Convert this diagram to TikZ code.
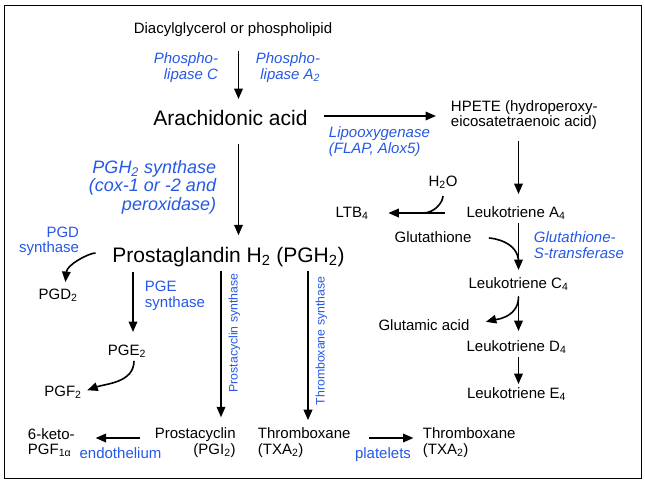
\documentclass[tikz,border=0pt]{standalone}
\usepackage{fontspec}
\setmainfont{Liberation Sans}
\usetikzlibrary{arrows.meta,positioning}

\definecolor{enzblue}{RGB}{38,88,230}

\tikzset{
  mol/.style={inner sep=0pt,font=\fontsize{15}{15.5}\selectfont,text height=11pt,text depth=3pt},
  mols/.style={inner sep=0pt,font=\fontsize{15}{15.5}\selectfont},
  bigmol/.style={inner sep=0pt,font=\fontsize{21}{24}\selectfont,text height=15pt,text depth=4.5pt},
  enz/.style={inner sep=0pt,text=enzblue,font=\fontsize{15}{15.5}\selectfont,text height=11pt,text depth=3pt},
  enzs/.style={inner sep=0pt,text=enzblue,font=\fontsize{15}{15.5}\selectfont},
  enzit/.style={inner sep=0pt,text=enzblue,font=\fontsize{15}{15.5}\selectfont\itshape},
  enzsm/.style={inner sep=0pt,text=enzblue,font=\fontsize{12.3}{14}\selectfont},
}

\begin{document}
\begin{tikzpicture}[x=1pt,y=-1pt,>={Triangle[length=10.5pt,width=8.5pt]},line width=1.9pt]

                \useasboundingbox (0,0) rectangle (645,483);
                \draw[line width=0.8pt] (4,5) rectangle (641,478);

                \coordinate (lsp) at (238.5,0);
                \coordinate (rsp) at (518.5,0);
                \coordinate (pgex) at (133,0);
                \coordinate (pcx) at (221,0);
                \coordinate (txx) at (308,0);
                \coordinate (wj) at (423,213);
                \coordinate (gj) at (518.5,262);
                \coordinate (cj) at (518.5,297);

                % top
                \node[mol] (dag) at (233,29) {Diacylglycerol or phospholipid};
                \node[enzit,align=right,anchor=east] (plc) at (219,67.5) {Phospho-\\lipase C};
                \node[enzit,align=right,anchor=east] (pla) at (321,67.5) {Phospho-\\lipase A\textsubscript{2}};
                \node[bigmol] (aa) at (230.5,120) {Arachidonic acid};

                % leukotrienes
                \node[mols,align=left,anchor=west] (hpete) at (450,115) {HPETE (hydroperoxy-\\eicosatetraenoic acid)};
                \node[enzit,align=left,anchor=west] (lox) at (328,141.5) {Lipooxygenase\\(FLAP, Alox5)};
                \node[mol] (h2o) at (443,182) {H\textsubscript{2}O};
                \node[mol] (lta4) at (516,213) {Leukotriene A\textsubscript{4}};
                \node[mol] (ltb4) at (352,213) {LTB\textsubscript{4}};
                \node[mol] (gsh) at (433,238) {Glutathione};
                \node[enzit,align=left,anchor=west] (gst) at (533,245) {Glutathione-\\S-transferase};
                \node[mol] (ltc4) at (518.5,284) {Leukotriene C\textsubscript{4}};
                \node[mol] (glu) at (424,326) {Glutamic acid};
                \node[mol] (ltd4) at (516.5,347) {Leukotriene D\textsubscript{4}};
                \node[mol] (lte4) at (516.5,394) {Leukotriene E\textsubscript{4}};

                % prostanoids
                \node[enzit,align=right,anchor=east,font=\fontsize{18}{18.5}\selectfont\itshape] (cox) at (217,187) {PGH\textsubscript{2} synthase\\(cox-1 or -2 and\\peroxidase)};
                \node[bigmol] (pgh2) at (228.5,257) {Prostaglandin H\textsubscript{2} (PGH\textsubscript{2})};
                \node[enzs,align=right,anchor=east] (pgds) at (80,241.5) {PGD\\synthase};
                \node[mol] (pgd2) at (58,295) {PGD\textsubscript{2}};
                \node[enzs,align=left,anchor=west] (pges) at (144,296) {PGE\\synthase};
                \node[mol] (pge2) at (127,351) {PGE\textsubscript{2}};
                \node[mol] (pgf2) at (63,392) {PGF\textsubscript{2}};
                \node[enzsm,rotate=90] (pcs) at (234.5,333) {Prostacyclin synthase};
                \node[enzsm,rotate=90] (txs) at (321.5,341) {Thromboxane synthase};

                % bottom row
                \node[mols,align=left,anchor=west] (keto) at (27,442.5) {6-keto-\\PGF\textsubscript{1α}};
                \node[mols,align=right,anchor=east] (pgi2) at (236.6,442.5) {Prostacyclin\\(PGI\textsubscript{2})};
                \node[mols,align=left,anchor=west] (txa2) at (257,442.5) {Thromboxane\\(TXA\textsubscript{2})};
                \node[mols,align=left,anchor=west] (txb) at (422,442.5) {Thromboxane\\(TXA\textsubscript{2})};
                \node[enz] (endo) at (120.5,454) {endothelium};
                \node[enz] (plt) at (383,454) {platelets};

                \path[->] (dag.south -| lsp) edge[shorten <=14pt,shorten >=10.25pt] (aa.north -| lsp)
                          ([yshift=4pt]aa.east) edge[shorten <=15.5pt,shorten >=14pt] ([yshift=4pt]aa.east -| hpete.west)
                          (aa.south -| lsp) edge[shorten <=13pt,shorten >=11pt] (pgh2.north -| lsp)
                          (hpete.south -| rsp) edge[shorten <=10pt,shorten >=11pt] (lta4.north -| rsp)
                          (lta4.west) edge[shorten <=21pt,shorten >=19pt] (ltb4.east)
                          (h2o.south) edge[-,line width=1.6pt,out=-90,in=0,shorten <=6pt] (wj)
                          (lta4.south -| rsp) edge[shorten <=2pt,shorten >=6pt] (ltc4.north -| rsp)
                          (gsh.east) edge[-,line width=1.6pt,out=0,in=90,shorten <=16.5pt] (gj)
                          (ltc4.south -| rsp) edge[shorten <=4pt,shorten >=8pt] (ltd4.north -| rsp)
                          (cj) edge[line width=1.6pt,out=-90,in=15,shorten >=16pt] (glu.east)
                          (ltd4.south -| rsp) edge[shorten <=2pt,shorten >=2pt] (lte4.north -| rsp);

                \path[->] ([yshift=4pt]pgh2.west) edge[line width=1.6pt,out=180,in=85,shorten <=16pt,shorten >=5pt] ([xshift=7pt]pgd2.north)
                          (pgh2.south -| pgex) edge[shorten <=4pt,shorten >=11pt] (pge2.north -| pgex)
                          ([xshift=7pt]pge2.south) edge[line width=1.6pt,out=-90,in=20,shorten <=2pt,shorten >=5pt] (pgf2.east)
                          (pgh2.south -| pcx) edge[shorten <=3pt,shorten >=9.5pt] (pgi2.north -| pcx)
                          (pgh2.south -| txx) edge[shorten <=3pt,shorten >=6.6pt] (txa2.north -| txx)
                          ([yshift=4.5pt]pgi2.west) edge[shorten <=13.5pt,shorten >=20pt] ([yshift=4.5pt]pgi2.west -| keto.east)
                          ([yshift=4.5pt]txa2.east) edge[shorten <=18pt,shorten >=8.5pt] ([yshift=4.5pt]txa2.east -| txb.west);

            \end{tikzpicture}
\end{document}
